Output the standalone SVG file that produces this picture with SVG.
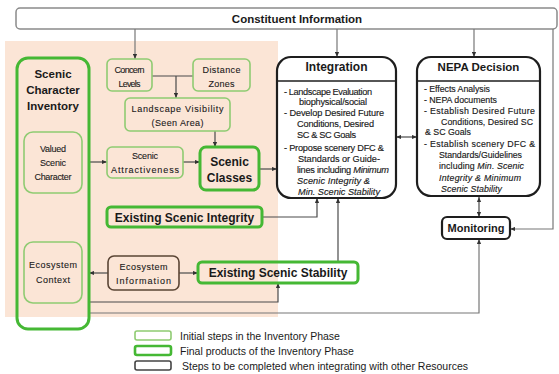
<svg xmlns="http://www.w3.org/2000/svg" width="559" height="374" viewBox="0 0 559 374">
<defs>
<marker id="ah" viewBox="0 0 6 6" refX="6" refY="3" markerWidth="5" markerHeight="5" orient="auto-start-reverse" markerUnits="userSpaceOnUse"><path d="M0,0.5 L6,3 L0,5.5 z" fill="#333"/></marker>
</defs>
<style>
text{font-family:"Liberation Sans",Arial,sans-serif;fill:#1a1a1a;}
.init{fill:none;stroke:#8fcb72;stroke-width:1.6}
.final{fill:none;stroke:#45b834;stroke-width:3}
.step{fill:#fff;stroke:#1e1e1e;stroke-width:2.2}
.eco{fill:none;stroke:#5a4535;stroke-width:1.6}
.conn{fill:none;stroke:#4a4a4a;stroke-width:1.2}
.gconn{fill:none;stroke:#777;stroke-width:1.2}
.s{font-size:9px;text-anchor:middle;stroke:#1a1a1a;stroke-width:0.1}
.m{font-size:9.2px;stroke:#1a1a1a;stroke-width:0.15}
.n{font-size:8.8px;stroke:#1a1a1a;stroke-width:0.15}
.h{font-weight:bold;text-anchor:middle}
.i{font-style:italic}
.lg{font-size:10.5px}
</style>
<rect x="5" y="41" width="273" height="276" fill="#fbe5d6"/>

<g id="constituent">
<rect x="16" y="8" width="541" height="21" rx="4" fill="#fff" stroke="#8a8a8a" stroke-width="1.5"/>
<text x="297" y="23" class="h" font-size="11.5">Constituent Information</text>
</g>

<g id="connectors">
<path class="gconn" d="M135,29 V59" marker-end="url(#ah)"/>
<path class="gconn" d="M337,29 V57" marker-end="url(#ah)"/>
<path class="gconn" d="M474,29 V57" marker-end="url(#ah)"/>
<path class="gconn" d="M553,29 V229 H510" marker-end="url(#ah)"/>
<path class="conn" d="M152,76 H193 M176,76 V98" marker-end="url(#ah)"/>
<path class="conn" d="M215,131 V147" marker-end="url(#ah)"/>
<path class="conn" d="M89,162 H107" marker-end="url(#ah)"/>
<path class="conn" d="M183,162 H200" marker-end="url(#ah)"/>
<path class="conn" d="M259,169 H277" marker-end="url(#ah)"/>
<path class="conn" d="M262,217 H317 V198" marker-end="url(#ah)"/>
<path class="conn" d="M338,262 V198" marker-end="url(#ah)"/>
<path class="conn" d="M108,273 H89" marker-end="url(#ah)"/>
<path class="conn" d="M179,273 H198" marker-end="url(#ah)"/>
<path class="conn" d="M89,302 H278 V283" marker-end="url(#ah)"/>
<path class="gconn" d="M89,313 H479 V239" marker-end="url(#ah)"/>
<path class="conn" d="M396,137 H417" marker-start="url(#ah)" marker-end="url(#ah)"/>
<path class="conn" d="M479,197 V217" marker-start="url(#ah)" marker-end="url(#ah)"/>
</g>

<g id="sci">
<rect x="17" y="58" width="72" height="271" rx="11" class="final"/>
<text x="53" y="78" class="h" font-size="11.5">Scenic</text>
<text x="53" y="94" class="h" font-size="11.5">Character</text>
<text x="53" y="110" class="h" font-size="11.5">Inventory</text>
</g>

<g id="valued">
<rect x="24" y="132" width="58" height="61" rx="9" class="init"/>
<text x="53" y="152" class="s" textLength="26">Valued</text>
<text x="53" y="166" class="s" textLength="26">Scenic</text>
<text x="53" y="180" class="s" textLength="37">Character</text>
</g>

<g id="ecocontext">
<rect x="24" y="242" width="58" height="61" rx="9" class="init"/>
<text x="53" y="268" class="s" textLength="48">Ecosystem</text>
<text x="53" y="283" class="s" textLength="34">Context</text>
</g>

<g id="concern">
<rect x="107" y="59" width="45" height="32" rx="5" class="init"/>
<text x="129.5" y="73" class="s" textLength="30">Concern</text>
<text x="129.5" y="87" class="s" textLength="22">Levels</text>
</g>

<g id="distance">
<rect x="193" y="59" width="57" height="32" rx="5" class="init"/>
<text x="221.5" y="73" class="s" textLength="38">Distance</text>
<text x="221.5" y="87" class="s" textLength="26">Zones</text>
</g>

<g id="landscape">
<rect x="125" y="98" width="105" height="33" rx="5" class="init"/>
<text x="177.5" y="112" class="s" textLength="92">Landscape Visibility</text>
<text x="177.5" y="126" class="s" textLength="52">(Seen Area)</text>
</g>

<g id="attractiveness">
<rect x="107" y="147" width="76" height="31" rx="5" class="init"/>
<text x="145" y="159" class="s" textLength="26">Scenic</text>
<text x="145" y="173" class="s" textLength="68">Attractiveness</text>
</g>

<g id="classes">
<rect x="200" y="147" width="59" height="43" rx="6" class="final"/>
<text x="229.5" y="166" class="h" font-size="12">Scenic</text>
<text x="229.5" y="182" class="h" font-size="12">Classes</text>
</g>

<g id="integrity">
<rect x="107" y="207" width="155" height="20" rx="4" class="final"/>
<text x="184.5" y="221.5" class="h" font-size="12">Existing Scenic Integrity</text>
</g>

<g id="ecoinfo">
<rect x="108" y="256" width="71" height="34" rx="6" class="eco"/>
<text x="143.5" y="270" class="s" textLength="48">Ecosystem</text>
<text x="143.5" y="284" class="s" textLength="55">Information</text>
</g>

<g id="stability">
<rect x="198" y="262" width="160" height="21" rx="4" class="final"/>
<text x="278" y="277" class="h" font-size="12">Existing Scenic Stability</text>
</g>

<g id="integration">
<rect x="277" y="57" width="119" height="141" rx="14" class="step"/>
<line x1="277" y1="81" x2="396" y2="81" stroke="#1e1e1e" stroke-width="1.5"/>
<text x="336.5" y="71" class="h" font-size="12">Integration</text>
<text class="m" x="284" y="94.5" textLength="88">- Landscape Evaluation</text>
<text class="m" x="299" y="104.5" textLength="68">biophysical/social</text>
<text class="m" x="284" y="115.5" textLength="100">- Develop Desired Future</text>
<text class="m" x="297" y="126.5" textLength="77">Conditions, Desired</text>
<text class="m" x="297" y="137.5" textLength="59">SC &amp; SC Goals</text>
<text class="m" x="284" y="151" textLength="100">- Propose scenery DFC &amp;</text>
<text class="m" x="298" y="161.5" textLength="82">Standards or Guide-</text>
<text class="m" x="297" y="172.5" textLength="92">lines including <tspan class="i">Minimum</tspan></text>
<text class="m i" x="297" y="184" textLength="73">Scenic Integrity &amp;</text>
<text class="m i" x="298" y="194.5" textLength="82">Min. Scenic Stability</text>
</g>

<g id="nepa">
<rect x="417" y="57" width="123" height="139" rx="14" class="step"/>
<line x1="417" y1="81" x2="540" y2="81" stroke="#1e1e1e" stroke-width="1.5"/>
<text x="478.5" y="71" class="h" font-size="11.5">NEPA Decision</text>
<text class="n" x="424" y="91.5" textLength="66">- Effects Analysis</text>
<text class="n" x="424" y="102.5" textLength="73">- NEPA documents</text>
<text class="n" x="424" y="113.5" textLength="111">- Establish Desired Future</text>
<text class="n" x="441" y="124.5" textLength="92">Conditions, Desired SC</text>
<text class="n" x="425" y="135">&amp; SC Goals</text>
<text class="n" x="424" y="146.5" textLength="111">- Establish scenery DFC &amp;</text>
<text class="n" x="439" y="157.5" textLength="83">Standards/Guidelines</text>
<text class="n" x="439" y="169" textLength="85">including <tspan class="i">Min. Scenic</tspan></text>
<text class="n i" x="439" y="180.5" textLength="82">Integrity &amp; Minimum</text>
<text class="n i" x="441" y="192" textLength="61">Scenic Stability</text>
</g>

<g id="monitoring">
<rect x="442" y="217" width="68" height="22" rx="5" class="step"/>
<text x="476" y="232" class="h" font-size="11">Monitoring</text>
</g>

<g id="legend">
<rect x="135" y="331" width="36" height="9" rx="2" fill="#fff" stroke="#8fcb72" stroke-width="1.6"/>
<rect x="135" y="346" width="36" height="9" rx="2" fill="#fff" stroke="#45b834" stroke-width="2.6"/>
<rect x="135" y="361" width="36" height="9" rx="2" fill="#fff" stroke="#444" stroke-width="1.6"/>
<text class="lg" x="180" y="339.5">Initial steps in the Inventory Phase</text>
<text class="lg" x="180" y="354.5">Final products of the Inventory Phase</text>
<text class="lg" x="182" y="369.5">Steps to be completed when integrating with other Resources</text>
</g>
</svg>
